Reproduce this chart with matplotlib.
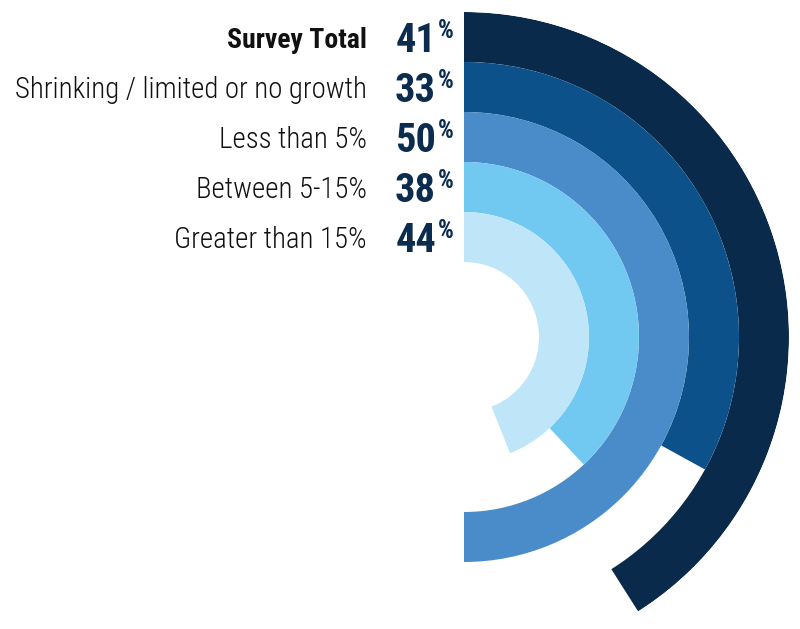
import numpy as np
import matplotlib
matplotlib.use("Agg")
import matplotlib.pyplot as plt
from matplotlib import font_manager

# ---- data ----
labels = ["Survey Total", "Shrinking / limited or no growth", "Less than 5%",
          "Between 5-15%", "Greater than 15%"]
values = [41, 33, 50, 38, 44]
colors = ["#0a2a4b", "#0c5189", "#4a8cc9", "#71c8f1", "#bee6f8"]

names = {f.name for f in font_manager.fontManager.ttflist}
FONT = "Roboto Condensed" if "Roboto Condensed" in names else "Roboto"

W, H, DPI = 800, 629, 100
fig = plt.figure(figsize=(W / DPI, H / DPI), dpi=DPI)
fig.patch.set_facecolor("white")

cx, cy, R = 464, 337, 325  # pixel centre & outer radius
ax = fig.add_axes([(cx - R) / W, (H - cy - R) / H, 2 * R / W, 2 * R / H],
                  projection="polar")
ax.set_theta_zero_location("N")
ax.set_theta_direction(-1)
ring_w = 1.0
hole = 1.5
n = len(values)
rmax = hole + n * ring_w
ax.set_ylim(0, rmax)
ax.axis("off")

for i, (v, c) in enumerate(zip(values, colors)):
    bottom = rmax - (i + 1) * ring_w
    ax.bar(0, ring_w, width=v / 100 * 2 * np.pi, bottom=bottom,
           align="edge", color=c, edgecolor="none", linewidth=0)

renderer = fig.canvas.get_renderer()


def fit(t, target):
    bb = t.get_window_extent(renderer)
    t.set_fontsize(t.get_fontsize() * target / bb.width)


texts = []
for i, (lab, v) in enumerate(zip(labels, values)):
    rmid = rmax - (i + 0.5) * ring_w
    bold = i == 0
    t = ax.annotate(lab, xy=(0, rmid), xycoords="data", xytext=(-97, -10.5),
                    textcoords="offset pixels", ha="right", va="baseline",
                    fontfamily=FONT, fontweight="bold" if bold else "light",
                    color="#111111", fontsize=20, annotation_clip=False)
    num = ax.annotate(str(v), xy=(0, rmid), xycoords="data", xytext=(-28, -15),
                      textcoords="offset pixels", ha="right", va="baseline",
                      fontfamily=FONT, fontweight="bold", color="#0b2c4f",
                      fontsize=24, annotation_clip=False)
    pct = ax.annotate("%", xy=(0, rmid), xycoords="data", xytext=(-26, -1.5),
                      textcoords="offset pixels", ha="left", va="baseline",
                      fontfamily=FONT, fontweight="bold", color="#0b2c4f",
                      fontsize=10, annotation_clip=False)
    texts.append((t, num, pct))

# size fitting to reference widths
fit(texts[0][0], 140)
fit(texts[1][0], 352)
light_size = texts[1][0].get_fontsize()
for i in range(2, n):
    texts[i][0].set_fontsize(light_size)
fit(texts[0][1], 41)
for i in range(1, n):
    texts[i][1].set_fontsize(texts[0][1].get_fontsize())
fit(texts[0][2], 16)
for i in range(1, n):
    texts[i][2].set_fontsize(texts[0][2].get_fontsize())

fig.savefig("out.png", dpi=DPI, facecolor="white")
